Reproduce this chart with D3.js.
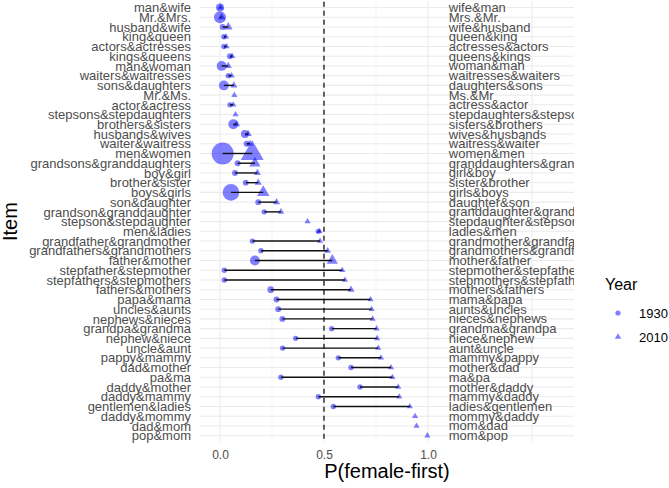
<!DOCTYPE html>
<html>
<head>
<meta charset="utf-8">
<script src="https://cdn.jsdelivr.net/npm/d3@7"></script>
<style>
	body { margin: 0; background: #fff; }
	text { font-family: "Liberation Sans", Arial, sans-serif; }
</style>
</head>
<body>
<script>
// binomial pairs, male-first order (left axis)
var items = ['man&wife', 'Mr.&Mrs.', 'husband&wife', 'king&queen', 'actors&actresses',
	'kings&queens', 'man&woman', 'waiters&waitresses', 'sons&daughters', 'Mr.&Ms.',
	'actor&actress', 'stepsons&stepdaughters', 'brothers&sisters', 'husbands&wives',
	'waiter&waitress', 'men&women', 'grandsons&granddaughters', 'boy&girl', 'brother&sister',
	'boys&girls', 'son&daughter', 'grandson&granddaughter', 'stepson&stepdaughter',
	'men&ladies', 'grandfather&grandmother', 'grandfathers&grandmothers', 'father&mother',
	'stepfather&stepmother', 'stepfathers&stepmothers', 'fathers&mothers', 'papa&mama',
	'uncles&aunts', 'nephews&nieces', 'grandpa&grandma', 'nephew&niece', 'uncle&aunt',
	'pappy&mammy', 'dad&mother', 'pa&ma', 'daddy&mother', 'daddy&mammy', 'gentlemen&ladies',
	'daddy&mommy', 'dad&mom', 'pop&mom'];

// female-first order (right side labels)
var itemsRev = ['wife&man', 'Mrs.&Mr.', 'wife&husband', 'queen&king', 'actresses&actors',
	'queens&kings', 'woman&man', 'waitresses&waiters', 'daughters&sons', 'Ms.&Mr',
	'actress&actor', 'stepdaughters&stepsons', 'sisters&brothers', 'wives&husbands',
	'waitress&waiter', 'women&men', 'granddaughters&grandsons', 'girl&boy', 'sister&brother',
	'girls&boys', 'daughter&son', 'granddaughter&grandson', 'stepdaughter&stepson',
	'ladies&men', 'grandmother&grandfather', 'grandmothers&grandfathers', 'mother&father',
	'stepmother&stepfather', 'stepmothers&stepfathers', 'mothers&fathers', 'mama&papa',
	'aunts&uncles', 'nieces&nephews', 'grandma&grandpa', 'niece&nephew', 'aunt&uncle',
	'mammy&pappy', 'mother&dad', 'ma&pa', 'mother&daddy', 'mammy&daddy', 'ladies&gentlemen',
	'mommy&daddy', 'mom&dad', 'mom&pop'];

// P(female-first) per year, null = no data
var p1930 = [0.0, 0.0, 0.013, 0.019, 0.019, 0.048, 0.008, 0.04, 0.019, null,
	0.048, null, 0.064, 0.12, 0.128, 0.013, 0.085, 0.072, 0.124, 0.053,
	0.184, 0.213, null, 0.473, 0.156, 0.197, 0.168, 0.021, 0.021, 0.244,
	0.272, 0.28, 0.3, 0.537, 0.364, 0.301, 0.569, 0.63, 0.293, 0.673,
	0.473, 0.545, null, null, null];
var p2010 = [0.003, 0.008, 0.04, 0.029, 0.032, 0.059, 0.04, 0.056, 0.067, 0.069,
	0.064, 0.075, 0.08, 0.136, 0.144, 0.155, 0.168, 0.18, 0.184, 0.208,
	0.272, 0.293, 0.421, 0.478, 0.481, 0.518, 0.54, 0.588, 0.601, 0.63,
	0.724, 0.729, 0.734, 0.753, 0.756, 0.761, 0.774, 0.822, 0.829, 0.857,
	0.862, 0.913, 0.938, 0.945, 0.997];

// frequency (point size)
var n1930 = [11, 25, 6, 5, 5, 6, 17, 5, 17, null,
	5, null, 17, 11, 6, 84, 6, 6, 6, 48,
	6, 5, null, 5, 5, 5, 17, 5, 5, 8,
	6, 6, 6, 5, 5, 5, 5, 5, 5, 5,
	5, 5, null, null, null];
var n2010 = [8, 10, 12, 6, 6, 6, 8, 6, 8, 6,
	6, 6, 8, 8, 8, 84, 20, 8, 8, 25,
	8, 7, 6, 6, 6, 7, 20, 6, 6, 8,
	6, 6, 6, 6, 6, 6, 6, 6, 6, 6,
	6, 6, 6, 6, 6];

var xTicks = [0, 0.5, 1];
var xMajor = [0, 0.5, 1, 1.5];
var xMinor = [0.25, 0.75];
var years = ['1930', '2010'];

var width = 669;
var height = 488;
var pLeft = 200, pRight = 574, pTop = 1.7, pBottom = 441.5;
var blue = '#0000ff';

var rows = items.map(function(d, i) {
	return {item: d, rev: itemsRev[i], a: p1930[i], b: p2010[i], na: n1930[i], nb: n2010[i]};
});

var svg = d3.select('body').append('svg')
	.attr('width', width)
	.attr('height', height);

var x = d3.scaleLinear().domain([-0.096, 1.702]).range([pLeft, pRight]);
var y = d3.scalePoint().domain(items).range([pTop, pBottom]).padding(0.6);
var r = d3.scaleSqrt().domain([0, 100]).range([0, 12]);

function triArea(n) {
	return Math.PI * r(n) * r(n) * 0.6;
}

// grid
var grid = svg.append('g');
grid.selectAll('.hg').data(items).enter().append('line')
	.attr('x1', pLeft).attr('x2', pRight)
	.attr('y1', function(d) { return y(d); })
	.attr('y2', function(d) { return y(d); })
	.attr('stroke', '#ebebeb').attr('stroke-width', 1.07);
grid.selectAll('.vmin').data(xMinor).enter().append('line')
	.attr('x1', function(d) { return x(d); })
	.attr('x2', function(d) { return x(d); })
	.attr('y1', pTop).attr('y2', pBottom)
	.attr('stroke', '#ebebeb').attr('stroke-width', 0.55);
grid.selectAll('.vmaj').data(xMajor).enter().append('line')
	.attr('x1', function(d) { return x(d); })
	.attr('x2', function(d) { return x(d); })
	.attr('y1', pTop).attr('y2', pBottom)
	.attr('stroke', '#ebebeb').attr('stroke-width', 1.07);

// reference line at 0.5
svg.append('line')
	.attr('x1', x(0.5)).attr('x2', x(0.5))
	.attr('y1', pTop).attr('y2', pBottom)
	.attr('stroke', '#000').attr('stroke-width', 1.2)
	.attr('stroke-dasharray', '5,4');

// female-first labels inside the panel
svg.append('clipPath').attr('id', 'clip')
	.append('rect')
	.attr('x', pLeft).attr('y', pTop)
	.attr('width', pRight - pLeft).attr('height', pBottom - pTop);

svg.append('g').attr('clip-path', 'url(#clip)')
	.selectAll('text').data(rows).enter().append('text')
	.attr('x', x(1.1))
	.attr('y', function(d) { return y(d.item); })
	.attr('dy', '0.35em')
	.attr('font-size', 13)
	.attr('fill', '#4d4d4d')
	.text(function(d) { return d.rev; });

// 1930 circles
svg.append('g').selectAll('circle')
	.data(rows.filter(function(d) { return d.a != null; }))
	.enter().append('circle')
	.attr('cx', function(d) { return x(d.a); })
	.attr('cy', function(d) { return y(d.item); })
	.attr('r', function(d) { return r(d.na); })
	.attr('fill', blue).attr('fill-opacity', 0.5);

// 2010 triangles
svg.append('g').selectAll('path')
	.data(rows.filter(function(d) { return d.b != null; }))
	.enter().append('path')
	.attr('transform', function(d) { return 'translate(' + x(d.b) + ',' + y(d.item) + ')'; })
	.attr('d', function(d) { return d3.symbol(d3.symbolTriangle).size(triArea(d.nb))(); })
	.attr('fill', blue).attr('fill-opacity', 0.5);

// segments 1930 -> 2010
svg.append('g').selectAll('line')
	.data(rows.filter(function(d) { return d.a != null && d.b != null; }))
	.enter().append('line')
	.attr('x1', function(d) { return x(d.a); })
	.attr('x2', function(d) { return x(d.b); })
	.attr('y1', function(d) { return y(d.item); })
	.attr('y2', function(d) { return y(d.item); })
	.attr('stroke', '#111').attr('stroke-width', 1.4);

// axes
var xAxis = svg.append('g')
	.attr('transform', 'translate(0,' + pBottom + ')')
	.call(d3.axisBottom(x).tickValues(xTicks).tickFormat(d3.format('.1f')).tickSize(0).tickPadding(9));
var yAxis = svg.append('g')
	.attr('transform', 'translate(' + pLeft + ',0)')
	.call(d3.axisLeft(y).tickSize(0).tickPadding(9));

[xAxis, yAxis].forEach(function(ax) {
	ax.select('.domain').remove();
	ax.selectAll('text')
		.attr('fill', '#4d4d4d')
		.attr('font-family', '"Liberation Sans", Arial, sans-serif');
});
xAxis.selectAll('text').attr('font-size', 12);
yAxis.selectAll('text').attr('font-size', 13);

// axis titles
svg.append('text')
	.attr('x', (pLeft + pRight) / 2)
	.attr('y', 478)
	.attr('text-anchor', 'middle')
	.attr('font-size', 20)
	.text('P(female-first)');

svg.append('text')
	.attr('transform', 'translate(17,' + ((pTop + pBottom) / 2) + ') rotate(-90)')
	.attr('text-anchor', 'middle')
	.attr('font-size', 20)
	.text('Item');

// legend
var legend = svg.append('g');
legend.append('text')
	.attr('x', 605).attr('y', 290)
	.attr('font-size', 16)
	.text('Year');

legend.append('circle')
	.attr('cx', 618).attr('cy', 313).attr('r', 2.6)
	.attr('fill', blue).attr('fill-opacity', 0.5);
legend.append('path')
	.attr('transform', 'translate(618,337)')
	.attr('d', d3.symbol(d3.symbolTriangle).size(18)())
	.attr('fill', blue).attr('fill-opacity', 0.5);

legend.selectAll('.lab').data(years).enter().append('text')
	.attr('x', 639)
	.attr('y', function(d, i) { return 313 + i * 24; })
	.attr('dy', '0.35em')
	.attr('font-size', 13)
	.text(function(d) { return d; });
</script>
</body>
</html>
